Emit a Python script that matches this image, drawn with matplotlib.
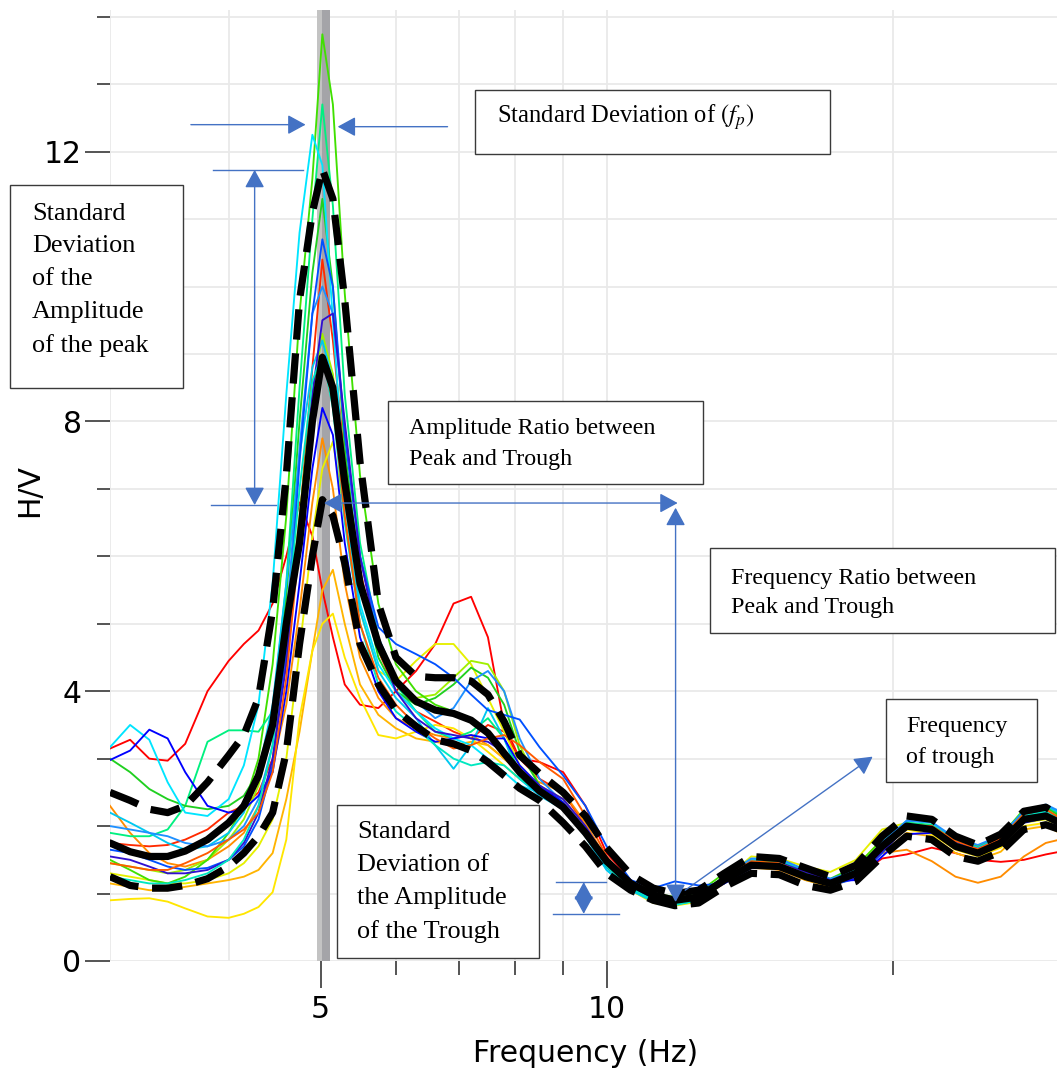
import matplotlib
matplotlib.use("Agg")
import matplotlib.pyplot as plt
import matplotlib.transforms as mtransforms
from matplotlib.patches import Rectangle
from matplotlib.ticker import NullFormatter

plt.rcParams['mathtext.fontset'] = 'stix'

# frequency samples shared by every curve (Hz)
freq = [3.0, 3.15, 3.3, 3.45, 3.6, 3.8, 4.0, 4.15, 4.3, 4.45, 4.6, 4.75, 4.9,
        5.02, 5.15, 5.3, 5.5, 5.75,
        6.0, 6.3, 6.6, 6.9, 7.2, 7.5, 7.8, 8.1, 8.5, 9.0, 9.5, 10.0,
        10.6, 11.2, 11.8, 12.5, 13.3, 14.2, 15.2, 16.2, 17.2, 18.3, 19.5,
        20.7, 22.0, 23.3, 24.6, 26.0, 27.5, 29.0, 30.0]

# H/V of the individual time windows
win01 = [3.15, 3.28, 3.0, 2.97, 3.22, 4.0, 4.45, 4.7, 4.9, 5.3, 6.0, 6.8, 6.3,
         5.5, 4.8, 4.1, 3.8, 3.75,
         4.0, 4.3, 4.7, 5.3, 5.4, 4.8, 3.5, 3.0, 2.95, 2.8, 2.3, 1.6,
         1.2, 1.0, 0.92, 0.97, 1.18, 1.4, 1.38, 1.22, 1.1, 1.25, 1.52, 1.58, 1.68, 1.6, 1.5, 1.47, 1.5, 1.58, 1.62]
win02 = [1.75, 1.72, 1.7, 1.72, 1.8, 1.95, 2.2, 2.3, 2.5, 3.0, 4.5, 6.5, 8.8,
         10.4, 9.2, 7.4, 5.8, 4.6,
         4.0, 3.7, 3.55, 3.4, 3.3, 3.5, 3.4, 3.0, 2.7, 2.5, 2.0, 1.5,
         1.15, 0.97, 0.9, 0.96, 1.22, 1.45, 1.42, 1.27, 1.15, 1.28, 1.68, 1.98, 1.97, 1.75, 1.62, 1.75, 2.08, 2.12, 2.0]
win03 = [2.3, 1.9, 1.6, 1.45, 1.4, 1.5, 1.7, 1.9, 2.3, 2.9, 3.8, 5.2, 6.8,
         7.75, 7.0, 5.6, 4.5, 3.9,
         3.6, 3.45, 3.35, 3.3, 3.35, 3.2, 3.0, 2.8, 2.65, 2.5, 2.05, 1.5,
         1.12, 0.95, 0.88, 0.95, 1.2, 1.4, 1.35, 1.2, 1.12, 1.3, 1.6, 1.65, 1.48, 1.25, 1.16, 1.25, 1.55, 1.75, 1.8]
win04 = [1.15, 1.1, 1.05, 1.05, 1.1, 1.15, 1.2, 1.25, 1.35, 1.6, 2.4, 3.4, 4.6,
         5.5, 5.8, 5.0, 4.1, 3.65,
         3.45, 3.3, 3.25, 3.2, 3.25, 3.2, 3.0, 2.8, 2.6, 2.4, 1.95, 1.45,
         1.1, 0.92, 0.86, 0.92, 1.15, 1.38, 1.36, 1.2, 1.1, 1.25, 1.6, 1.9, 1.85, 1.6, 1.5, 1.62, 1.95, 2.0, 1.9]
win05 = [0.9, 0.92, 0.93, 0.88, 0.78, 0.66, 0.64, 0.7, 0.8, 1.02, 1.8, 3.6, 4.6,
         5.0, 5.15, 4.5, 3.9, 3.35,
         3.3, 3.4, 3.5, 3.45, 3.3, 3.1, 2.9, 2.7, 2.55, 2.35, 1.9, 1.4,
         1.05, 0.88, 0.84, 0.9, 1.15, 1.5, 1.48, 1.32, 1.2, 1.4, 1.8, 1.95, 1.88, 1.65, 1.55, 1.68, 2.0, 2.05, 1.95]
win06 = [1.3, 1.25, 1.2, 1.15, 1.15, 1.2, 1.3, 1.45, 1.7, 2.1, 3.0, 4.6, 6.3,
         7.3, 7.7, 6.6, 5.2, 4.3,
         4.15, 4.45, 4.7, 4.7, 4.4, 3.9, 3.4, 2.9, 2.6, 2.4, 2.0, 1.45,
         1.05, 0.86, 0.82, 0.88, 1.2, 1.55, 1.52, 1.4, 1.32, 1.5, 1.95, 2.05, 1.9, 1.68, 1.6, 1.72, 2.05, 2.1, 2.0]
win07 = [1.45, 1.4, 1.35, 1.3, 1.35, 1.5, 1.8, 2.1, 2.6, 3.4, 4.8, 6.6, 8.4,
         9.3, 8.7, 7.2, 5.6, 4.6,
         4.1, 3.9, 3.95, 4.2, 4.45, 4.4, 4.0, 3.2, 2.6, 2.3, 1.9, 1.4,
         1.1, 0.92, 0.86, 0.92, 1.22, 1.45, 1.44, 1.3, 1.2, 1.35, 1.72, 2.02, 2.0, 1.78, 1.66, 1.8, 2.18, 2.25, 2.12]
win08 = [1.5, 1.35, 1.2, 1.15, 1.25, 1.5, 1.9, 2.3, 3.0, 4.4, 6.6, 9.6, 11.6,
         13.74, 12.7, 9.9, 7.2, 5.3,
         4.4, 4.0, 3.8, 3.7, 3.6, 3.4, 3.1, 2.8, 2.55, 2.3, 1.9, 1.45,
         1.15, 1.0, 0.95, 1.02, 1.3, 1.5, 1.48, 1.35, 1.22, 1.4, 1.8, 2.05, 2.0, 1.78, 1.7, 1.85, 2.25, 2.3, 2.2]
win09 = [1.9, 1.85, 1.85, 1.95, 2.3, 3.25, 3.42, 3.42, 3.4, 3.7, 5.6, 8.5, 11.0,
         12.7, 11.2, 8.4, 6.2, 4.8,
         4.1, 3.7, 3.4, 3.3, 3.4, 3.6, 3.3, 2.8, 2.5, 2.3, 1.9, 1.45,
         1.12, 0.98, 0.92, 0.98, 1.25, 1.5, 1.48, 1.32, 1.2, 1.35, 1.75, 2.05, 2.02, 1.78, 1.65, 1.82, 2.22, 2.3, 2.18]
win10 = [3.0, 2.8, 2.55, 2.4, 2.3, 2.25, 2.3, 2.45, 2.8, 3.6, 5.4, 8.0, 10.2,
         11.3, 10.0, 7.6, 5.7, 4.5,
         4.0, 3.8, 3.9, 4.1, 4.35, 4.2, 3.8, 3.1, 2.6, 2.3, 1.9, 1.4,
         1.1, 0.95, 0.9, 0.97, 1.25, 1.48, 1.46, 1.3, 1.18, 1.32, 1.72, 2.02, 1.98, 1.75, 1.64, 1.8, 2.2, 2.28, 2.15]
win11 = [3.17, 3.5, 3.28, 2.65, 2.2, 2.15, 2.4, 2.9, 3.8, 5.6, 8.4, 10.8, 12.25,
         11.8, 9.5, 7.0, 5.3, 4.4,
         4.0, 3.7, 3.45, 3.3, 3.2, 3.0, 2.8, 2.6, 2.5, 2.3, 1.85, 1.35,
         1.05, 0.9, 0.84, 0.9, 1.18, 1.45, 1.42, 1.28, 1.15, 1.3, 1.72, 2.0, 1.96, 1.72, 1.6, 1.76, 2.12, 2.2, 2.08]
win12 = [2.2, 2.05, 1.9, 1.75, 1.65, 1.7, 1.9, 2.2, 2.8, 3.8, 5.6, 7.5, 8.8,
         9.2, 8.6, 6.8, 5.2, 4.3,
         3.9, 3.6, 3.2, 2.85, 3.2, 3.75, 3.3, 2.7, 2.45, 2.25, 1.85, 1.35,
         1.05, 0.88, 0.83, 0.9, 1.2, 1.5, 1.5, 1.35, 1.2, 1.32, 1.75, 2.08, 2.05, 1.8, 1.68, 1.84, 2.22, 2.3, 2.2]
win13 = [2.0, 1.95, 1.9, 1.85, 1.75, 1.7, 1.8, 2.0, 2.4, 3.2, 5.0, 7.6, 9.6,
         10.0, 9.6, 7.9, 6.0, 4.8,
         4.2, 3.85, 3.6, 3.75, 4.15, 4.3, 4.0, 3.3, 2.7, 2.35, 1.95, 1.45,
         1.12, 0.96, 0.9, 0.96, 1.25, 1.52, 1.52, 1.35, 1.22, 1.34, 1.76, 2.08, 2.06, 1.82, 1.72, 1.86, 2.22, 2.32, 2.22]
win14 = [1.65, 1.6, 1.5, 1.4, 1.35, 1.38, 1.5, 1.7, 2.1, 2.9, 4.6, 7.4, 9.6,
         10.7, 10.0, 7.8, 6.0, 4.95,
         4.7, 4.55, 4.4, 4.2, 3.95, 3.72, 3.65, 3.58, 3.17, 2.75, 2.3, 1.7,
         1.2, 1.08, 1.18, 1.12, 1.15, 1.38, 1.42, 1.25, 1.12, 1.22, 1.6, 2.0, 2.0, 1.75, 1.62, 1.78, 2.15, 2.22, 2.1]
win15 = [2.98, 3.12, 3.43, 3.3, 2.8, 2.3, 2.2, 2.25, 2.45, 2.8, 4.0, 5.6, 7.3,
         8.2, 7.8, 6.2, 4.8, 4.0,
         3.6, 3.4, 3.25, 3.3, 3.35, 3.3, 3.3, 2.9, 2.6, 2.35, 1.95, 1.4,
         1.08, 0.92, 0.86, 0.92, 1.15, 1.38, 1.4, 1.28, 1.18, 1.2, 1.55, 1.88, 1.9, 1.7, 1.6, 1.72, 2.05, 2.12, 2.0]
win16 = [1.55, 1.5, 1.4, 1.3, 1.3, 1.35, 1.5, 1.75, 2.2, 3.0, 4.4, 6.4, 8.4,
         9.5, 9.6, 8.0, 6.0, 4.7,
         4.0, 3.6, 3.4, 3.35, 3.3, 3.25, 3.1, 2.85, 2.6, 2.4, 2.0, 1.5,
         1.12, 0.94, 0.88, 0.94, 1.2, 1.45, 1.46, 1.32, 1.2, 1.24, 1.62, 1.98, 1.98, 1.76, 1.66, 1.8, 2.15, 2.22, 2.1]
win17 = [1.25, 1.2, 1.15, 1.15, 1.2, 1.3, 1.5, 1.8, 2.3, 3.2, 4.9, 7.0, 8.6,
         9.0, 8.2, 6.5, 5.0, 4.1,
         3.7, 3.45, 3.2, 3.0, 2.9, 2.95, 2.9, 2.7, 2.5, 2.3, 1.9, 1.4,
         1.08, 0.9, 0.84, 0.9, 1.18, 1.45, 1.45, 1.28, 1.16, 1.3, 1.7, 2.0, 1.98, 1.74, 1.62, 1.78, 2.15, 2.22, 2.1]
win18 = [1.45, 1.4, 1.35, 1.35, 1.45, 1.6, 1.8, 1.95, 2.2, 2.8, 4.2, 6.2, 8.0,
         9.0, 8.3, 6.6, 5.0, 4.2,
         3.8, 3.5, 3.3, 3.15, 3.2, 3.3, 3.35, 3.2, 2.95, 2.7, 2.15, 1.55,
         1.15, 0.96, 0.9, 0.96, 1.24, 1.48, 1.45, 1.28, 1.16, 1.3, 1.7, 2.02, 2.0, 1.78, 1.66, 1.82, 2.18, 2.25, 2.12]

win_colors = ['#ff0000', '#ff2a00', '#ff8c00', '#ffb400', '#ffe600', '#e6f000',
              '#a0f000', '#40e000', '#00f080', '#20d020', '#00e5ff', '#00c8f0',
              '#1e90ff', '#0050ff', '#0000ff', '#3010d0', '#00e8c0', '#ff5a00']

# average curve and its standard deviation band
hv_mean = [1.75, 1.62, 1.55, 1.55, 1.63, 1.8, 2.05, 2.3, 2.75, 3.5, 5.0, 6.2, 8.0,
           8.95, 8.5, 7.1, 5.6, 4.7,
           4.15, 3.85, 3.72, 3.67, 3.57, 3.38, 3.08, 2.8, 2.52, 2.28, 1.9, 1.48,
           1.15, 0.98, 0.9, 0.95, 1.2, 1.42, 1.4, 1.25, 1.15, 1.3, 1.7, 2.0, 1.95, 1.7, 1.6, 1.75, 2.1, 2.15, 2.05]
hv_plus = [2.5, 2.38, 2.25, 2.2, 2.3, 2.65, 3.05, 3.35, 3.9, 5.2, 7.2, 9.8, 11.1,
           11.74, 11.3, 9.8, 7.4, 5.3,
           4.5, 4.22, 4.2, 4.2, 4.15, 3.95, 3.55, 3.05, 2.78, 2.5, 2.15, 1.68,
           1.28, 1.08, 1.0, 1.05, 1.3, 1.55, 1.52, 1.38, 1.25, 1.42, 1.85, 2.15, 2.1, 1.85, 1.72, 1.88, 2.22, 2.28, 2.15]
hv_minus = [1.25, 1.12, 1.08, 1.08, 1.12, 1.22, 1.4, 1.6, 1.85, 2.2, 3.1, 4.7, 6.0,
            6.84, 6.6, 5.9, 4.7, 4.1,
            3.72, 3.48, 3.28, 3.22, 3.12, 2.95, 2.75, 2.56, 2.38, 2.05, 1.7, 1.3,
            1.05, 0.9, 0.82, 0.86, 1.1, 1.3, 1.28, 1.12, 1.05, 1.18, 1.55, 1.85, 1.8, 1.55, 1.48, 1.62, 1.95, 2.02, 1.95]

f0_lo, f0_mean, f0_hi = 4.95, 5.02, 5.12

W, H = 1057, 1076
fig = plt.figure(figsize=(W / 100, H / 100), dpi=100)
ax = fig.add_axes([110 / W, 115 / H, 947 / W, 951 / H])
px = mtransforms.Affine2D().scale(1 / W, -1 / H).translate(0, 1) + fig.transFigure

ax.set_xscale('log')
ax.set_xlim(3, 29.8)
ax.set_ylim(0, 14.1)

# light grid
for g in [3, 4, 5, 6, 7, 8, 9, 10, 20]:
    ax.axvline(g, color='#e9e9e9', lw=1.3, zorder=0)
for g in range(0, 15):
    ax.axhline(g, color='#e9e9e9', lw=1.3, zorder=0)

# peak frequency +- std
ax.axvspan(f0_lo, f0_mean, color='#c3c3c3', lw=0, zorder=0.5)
ax.axvspan(f0_mean, f0_hi, color='#a4a4a8', lw=0, zorder=0.5)

windows = [win01, win02, win03, win04, win05, win06, win07, win08, win09,
           win10, win11, win12, win13, win14, win15, win16, win17, win18]
for w, c in zip(windows, win_colors):
    ax.plot(freq, w, color=c, lw=1.35, zorder=2)

dash = (0, (4.2, 1.9))
ax.plot(freq, hv_plus, color='black', lw=5.2, ls=dash, zorder=3)
ax.plot(freq, hv_minus, color='black', lw=5.2, ls=dash, zorder=3)
ax.plot(freq, hv_mean, color='black', lw=5.2, zorder=3, solid_capstyle='round')

for s in ax.spines.values():
    s.set_visible(False)

ax.set_xticks([5, 10])
ax.set_xticklabels(['5', '10'])
ax.set_xticks([6, 7, 8, 9, 20], minor=True)
ax.xaxis.set_minor_formatter(NullFormatter())
ax.set_yticks([0, 4, 8, 12])
ax.set_yticks([1, 2, 3, 5, 6, 7, 9, 10, 11, 13, 14], minor=True)
tc = '#262626'
ax.tick_params(axis='y', which='major', length=18, width=1.1, color=tc, pad=2.5, labelsize=21.5)
ax.tick_params(axis='y', which='minor', length=9.5, width=1.1, color=tc)
ax.tick_params(axis='x', which='major', length=19.5, width=1.1, color=tc, pad=5, labelsize=21.5)
ax.tick_params(axis='x', which='minor', length=10, width=1.1, color=tc)

fig.text(30 / W, 1 - 490 / H, 'H/V', rotation=90, ha='center', va='center', fontsize=21.5)
fig.text(586 / W, 1 - 1053 / H, 'Frequency (Hz)', ha='center', va='center', fontsize=21.5)

# annotation arrows (data coordinates)
blue = '#4472c4'


def arrow(x0, y0, x1, y1, style='-|>'):
    ax.annotate('', xy=(x1, y1), xytext=(x0, y0), annotation_clip=False, zorder=6,
                arrowprops=dict(arrowstyle=style + ',head_length=0.55,head_width=0.3',
                                color=blue, lw=1.0, shrinkA=0, shrinkB=0,
                                mutation_scale=20))


def hline(y, x0, x1):
    ax.plot([x0, x1], [y, y], color=blue, lw=1.0, zorder=6, clip_on=False)


arrow(3.65, 12.40, 4.82, 12.40)
arrow(6.80, 12.37, 5.21, 12.37)

hline(11.73, 3.85, 4.79)
hline(6.76, 3.83, 4.49)
arrow(4.26, 6.76, 4.26, 11.73, '<|-|>')

arrow(5.04, 6.79, 11.88, 6.79, '<|-|>')
arrow(11.82, 6.72, 11.82, 0.875, '<|-|>')

arrow(12.1, 1.05, 19.06, 3.03)

hline(1.17, 8.85, 9.98)
hline(0.70, 8.79, 10.3)
arrow(9.46, 1.17, 9.46, 0.70, '<|-|>')

# text boxes (pixel coordinates): frame, text anchor, font size, line spacing
boxes = [
    (475, 90, 830, 154, 497, 117, 17.7, 1.8, r'Standard Deviation of $(f_p)$'),
    (10, 185, 183, 388, 32, 280, 18.9, 1.63, 'Standard\nDeviation\nof the\nAmplitude\nof the peak'),
    (388, 401, 703, 484, 409, 444, 17.3, 1.57, 'Amplitude Ratio between\nPeak and Trough'),
    (710, 548, 1055, 633, 731, 593, 17.3, 1.45, 'Frequency Ratio between\nPeak and Trough'),
    (886, 699, 1037, 782, 906, 742, 17.3, 1.57, 'Frequency\nof trough'),
    (337, 805, 539, 958, 357, 882, 18.9, 1.63, 'Standard\nDeviation of\nthe Amplitude\nof the Trough'),
]
for x0, y0, x1, y1, tx, ty, fs, ls, txt in boxes:
    fig.add_artist(Rectangle((x0, y0), x1 - x0, y1 - y0, transform=px,
                             facecolor='white', edgecolor='#3a3a3a', lw=1.0, zorder=7))
    fig.text(tx, ty, txt, transform=px, ha='left', va='center', fontsize=fs,
             family='Liberation Serif', linespacing=ls, zorder=8)

fig.savefig('out.png', dpi=100)
